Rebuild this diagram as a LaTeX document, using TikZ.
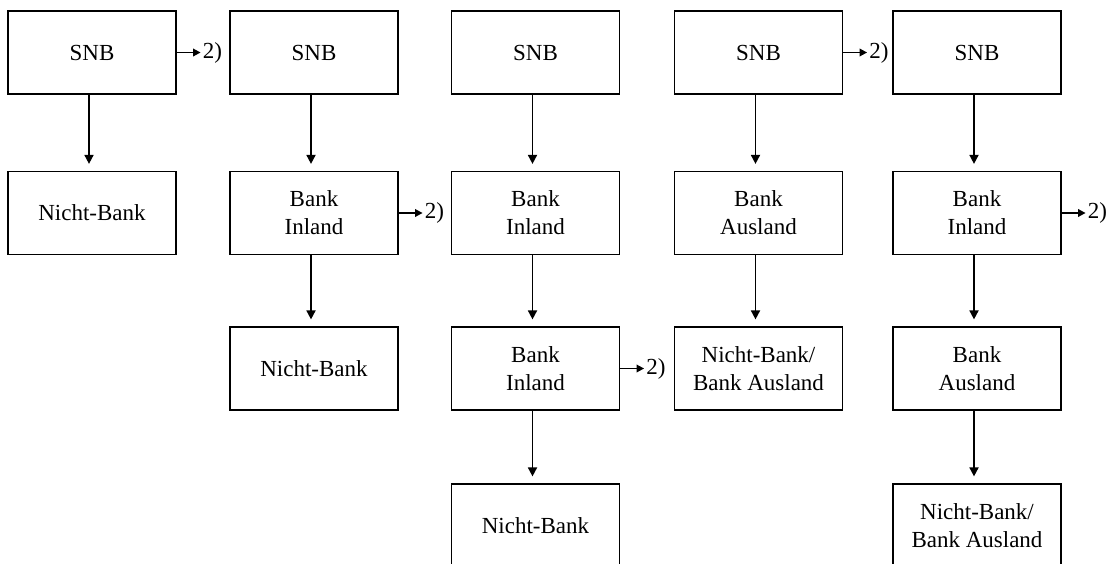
\documentclass[tikz,border=0pt]{standalone}
\usepackage{fontspec}
\setmainfont{Liberation Serif}
\usetikzlibrary{arrows.meta}
\begin{document}
\begin{tikzpicture}[x=1pt,y=-1pt,
  box/.style={draw, line width=1.2pt, minimum width=168pt, minimum height=83pt, align=center, inner sep=0pt,
    font=\fontsize{23}{28}\selectfont},
  lbl/.style={anchor=west, inner sep=0pt, font=\fontsize{23}{28}\selectfont},
  arr/.style={line width=1.7pt, -{Triangle[length=9pt,width=9pt]}},
  harr/.style={line width=1.7pt, -{Triangle[length=7.5pt,width=7.5pt]}}]
\clip (0,0) rectangle (1113,563);
\useasboundingbox (0,0) rectangle (1113,563);
% column 1
\node[box] (a1) at (92,52.5) {SNB};
\node[box] (a2) at (92,213) {Nicht-Bank};
% column 2
\node[box] (b1) at (314,52.5) {SNB};
\node[box] (b2) at (314,213) {Bank\\Inland};
\node[box] (b3) at (314,368.5) {Nicht-Bank};
% column 3
\node[box] (c1) at (535.5,52.5) {SNB};
\node[box] (c2) at (535.5,213) {Bank\\Inland};
\node[box] (c3) at (535.5,368.5) {Bank\\Inland};
\node[box] (c4) at (535.5,525.5) {Nicht-Bank};
% column 4
\node[box] (d1) at (758.5,52.5) {SNB};
\node[box] (d2) at (758.5,213) {Bank\\Ausland};
\node[box] (d3) at (758.5,368.5) {Nicht-Bank/\\Bank Ausland};
% column 5
\node[box] (e1) at (977,52.5) {SNB};
\node[box] (e2) at (977,213) {Bank\\Inland};
\node[box] (e3) at (977,368.5) {Bank\\Ausland};
\node[box] (e4) at (977,525.5) {Nicht-Bank/\\Bank Ausland};
% vertical arrows
\foreach \u/\v in {a1/a2,b1/b2,b2/b3,c1/c2,c2/c3,c3/c4,d1/d2,d2/d3,e1/e2,e2/e3,e3/e4}
  \draw[arr, shorten >=7pt] ([xshift=-3pt]\u.south) -- ([xshift=-3pt]\v.north);
% side labels
\node[lbl] (la) at ([xshift=26pt]a1.east) {2)};
\node[lbl] (lb) at ([xshift=26pt]b2.east) {2)};
\node[lbl] (lc) at ([xshift=26pt]c3.east) {2)};
\node[lbl] (ld) at ([xshift=26pt]d1.east) {2)};
\node[lbl] (le) at ([xshift=26pt]e2.east) {2)};
\foreach \u/\v in {a1/la,b2/lb,c3/lc,d1/ld,e2/le}
  \draw[harr, shorten >=2pt] (\u.east) -- (\u.east -| \v.west);
\end{tikzpicture}
\end{document}
